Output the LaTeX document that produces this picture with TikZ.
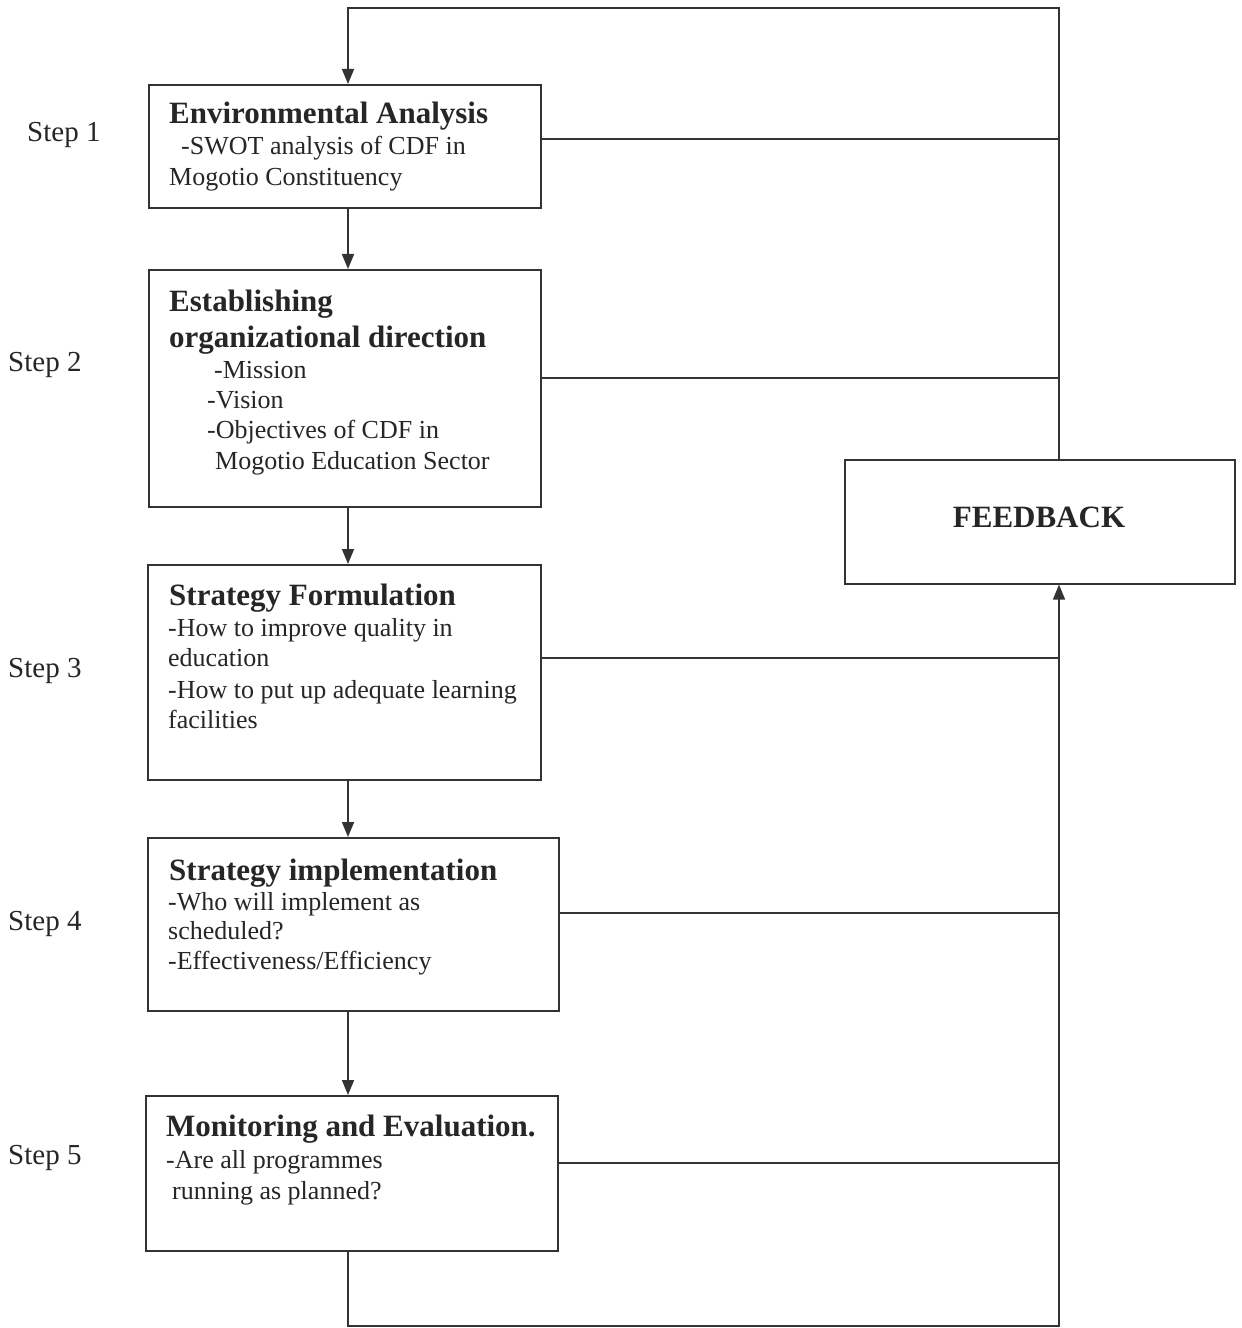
\documentclass[tikz,border=0pt]{standalone}
\usepackage{fontspec}
\setmainfont{Liberation Serif}
\usetikzlibrary{arrows.meta}
\begin{document}
\begin{tikzpicture}[x=1bp,y=-1bp,
  ln/.style={draw=black!80, line width=1.6bp},
  arr/.style={ln,-{Triangle[length=15bp,width=12bp]}},
  box/.style={draw=black!80,line width=1.6bp,anchor=north west,inner sep=0pt},
  ttl/.style={anchor=base west,inner sep=0pt,font=\fontsize{31bp}{37bp}\selectfont\bfseries,text=black!85},
  bd/.style={anchor=base west,inner sep=0pt,font=\fontsize{26bp}{31bp}\selectfont,text=black!85},
  stp/.style={anchor=base west,inner sep=0pt,font=\fontsize{29bp}{34bp}\selectfont,text=black!85}]
\useasboundingbox (0,0) rectangle (1241,1328);
\fill[white] (0,0) rectangle (1241,1328);

% boxes
\node[box,minimum width=392bp,minimum height=123bp] (b1) at (148,84) {};
\node[box,minimum width=392bp,minimum height=237bp] (b2) at (148,269) {};
\node[box,minimum width=393bp,minimum height=215bp] (b3) at (147,564) {};
\node[box,minimum width=411bp,minimum height=173bp] (b4) at (147,837) {};
\node[box,minimum width=412bp,minimum height=155bp] (b5) at (145,1095) {};
\node[box,minimum width=390bp,minimum height=124bp] (fb) at (844,459) {};

% texts box 1
\node[ttl] (t1a) at (169,124) {Environmental Analysis};
\node[bd] (t1b) at (181,155) {-SWOT analysis of CDF in};
\node[bd] (t1c) at (169,186) {Mogotio Constituency};
% box 2
\node[ttl] (t2a) at (169,312) {Establishing};
\node[ttl] (t2b) at (169,347) {organizational direction};
\node[bd] (t2c) at (214,378) {-Mission};
\node[bd] (t2d) at (207,408) {-Vision};
\node[bd] (t2e) at (207,438) {-Objectives of CDF in};
\node[bd] (t2f) at (215,469) {Mogotio Education Sector};
% box 3
\node[ttl] (t3a) at (169,605) {Strategy Formulation};
\node[bd] (t3b) at (168,636) {-How to improve quality in};
\node[bd] (t3c) at (168,666) {education};
\node[bd] (t3d) at (168,698) {-How to put up adequate learning};
\node[bd] (t3e) at (168,728) {facilities};
% box 4
\node[ttl] (t4a) at (169,880) {Strategy implementation};
\node[bd] (t4b) at (168,910) {-Who will implement as};
\node[bd] (t4c) at (168,939) {scheduled?};
\node[bd] (t4d) at (168,969) {-Effectiveness/Efficiency};
% box 5
\node[ttl] (t5a) at (166,1136) {Monitoring and Evaluation.};
\node[bd] (t5b) at (166,1168) {-Are all programmes};
\node[bd] (t5c) at (172,1199) {running as planned?};
% feedback
\node[anchor=base,inner sep=0pt,font=\fontsize{31bp}{37bp}\selectfont\bfseries,text=black!85] (fbt) at (1039,527) {FEEDBACK};

% step labels
\node[stp] (s1) at (27,142) {Step 1};
\node[stp] (s2) at (8,371) {Step 2};
\node[stp] (s3) at (8,677) {Step 3};
\node[stp] (s4) at (8,930) {Step 4};
\node[stp] (s5) at (8,1164) {Step 5};

% coordinates
\coordinate (sp) at (1059,1326);
\coordinate (ax) at (348,8);
\coordinate (y1) at (1059,139);
\coordinate (y2) at (1059,378);
\coordinate (y3) at (1059,658);
\coordinate (y4) at (1059,913);
\coordinate (y5) at (1059,1163);

% top loop
\draw[arr] (fb.north -| sp) |- (ax) -- (b1.north -| ax);
% down arrows
\draw[arr] (b1.south -| ax) -- (b2.north -| ax);
\draw[arr] (b2.south -| ax) -- (b3.north -| ax);
\draw[arr] (b3.south -| ax) -- (b4.north -| ax);
\draw[arr] (b4.south -| ax) -- (b5.north -| ax);
% bottom loop
\draw[arr] (b5.south -| ax) |- (sp) -- (fb.south -| sp);
% side lines
\draw[ln] (b1.east |- y1) -- (y1);
\draw[ln] (b2.east |- y2) -- (y2);
\draw[ln] (b3.east |- y3) -- (y3);
\draw[ln] (b4.east |- y4) -- (y4);
\draw[ln] (b5.east |- y5) -- (y5);
\end{tikzpicture}
\end{document}
